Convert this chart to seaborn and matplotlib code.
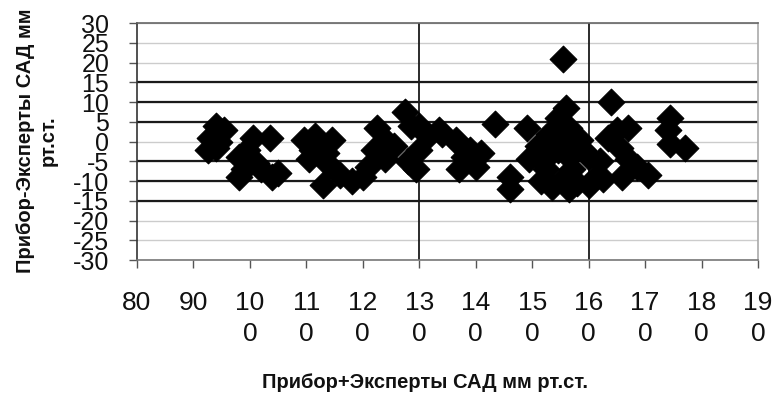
import matplotlib
matplotlib.use("Agg")
import matplotlib.pyplot as plt
import seaborn as sns
import pandas as pd

# Bland-Altman style data: mean of device+experts vs difference (SAD, mm Hg)
mean_sad = [
    92.5, 93, 94, 94.5, 95.5, 94,
    100.5, 103.5, 98, 99.5, 101, 98, 104, 102, 99, 105,
    109.5, 111.5, 114.5, 112.5, 110.5, 114, 113, 116, 118, 120, 121, 111, 113.5,
    122.5, 124, 122, 125.5, 124, 127.5, 128.5, 128, 129.5,
    130, 131.5, 133.5, 134, 137, 139, 137, 140, 130, 136.5, 138, 143.5, 146, 146, 141,
    149, 149.5, 155.5, 156, 154.5, 153, 156.5, 158.5, 154.5, 156.5, 160, 152.5,
    155.5, 158, 161, 153.5, 156.5, 151, 152, 157, 159, 155, 157.5, 151.5, 160,
    164, 165, 167, 163.5, 165.5, 167, 166, 170.5, 168.5, 162, 162.5,
    174.5, 174, 174.5, 177,
]
diff_sad = [
    -2, 1, 4, 0, 3, -1.5,
    1, 1, -4, -2, -5.5, -9, -9, -7, -7, -8,
    0.5, 1.5, 0.5, -2, -4.5, -6, -11, -8.5, -10, -9, -6.5, -2, -3,
    3.5, 0.5, -2, -1, -4.5, 7.5, 4, -5, -7,
    4, 1.5, 3, 2, -0.5, -2, -7, -6.5, -2, 0.5, -4, 4.5, -12, -9, -3,
    3.5, -4.5, 21, 8.5, 6, 2, 3.5, 0.5, -2, -4, -4, -7,
    -9.5, -10.5, -9.5, -11.5, -12, -1, -5, -7, -2, 0, -1, -10, -11,
    10, 3, 3.5, 1, -1.5, -4.5, -9, -8.5, -6.5, -5, -9.5,
    6, 3, -0.5, -1.5,
]

x_ticks = list(range(80, 200, 10))
x_tick_labels = ["80", "90", "10\n0", "11\n0", "12\n0", "13\n0", "14\n0",
                 "15\n0", "16\n0", "17\n0", "18\n0", "19\n0"]
y_ticks = list(range(-30, 35, 5))
limit_lines = [-15, -10, -5, 5, 10, 15]
range_lines = [130, 160]

df = pd.DataFrame({"mean": mean_sad, "diff": diff_sad})

sns.set_theme(style="white")
plt.rcParams['font.family'] = ['Liberation Sans', 'DejaVu Sans']

fig = plt.figure(figsize=(7.76, 3.99), dpi=100)
ax = fig.add_axes([0.1765, 0.348, 0.8003, 0.594])

ax.set_axisbelow(True)
ax.yaxis.grid(True, color='#cccccc', lw=1)
ax.xaxis.grid(False)

for y in limit_lines:
    ax.axhline(y, color='#1a1a1a', lw=1.6, zorder=1)
for x in range_lines:
    ax.axvline(x, color='#1a1a1a', lw=1.3, zorder=1)

sns.scatterplot(data=df, x="mean", y="diff", marker="D", s=185,
                color="black", edgecolor="black", linewidth=0.8,
                ax=ax, zorder=3, legend=False)

ax.set_xlim(80, 190)
ax.set_ylim(-30, 30)
ax.set_xticks(x_ticks)
ax.set_xticklabels(x_tick_labels)
ax.set_yticks(y_ticks)
ax.set_yticklabels([str(v) for v in y_ticks])
ax.set_xlabel("")
ax.set_ylabel("")

ax.tick_params(axis='x', bottom=True, direction='out', length=6, width=1,
               color='#555555', pad=16, labelsize=19, labelcolor='#111111')
ax.tick_params(axis='y', left=True, direction='out', length=6, width=1,
               color='#555555', pad=14, labelsize=18, labelcolor='#111111')
for lbl in ax.get_xticklabels():
    lbl.set_linespacing(1.38)

ax.spines['left'].set_color('#333333')
ax.spines['bottom'].set_color('#777777')
ax.spines['top'].set_color('#666666')
ax.spines['right'].set_color('#aaaaaa')
for s in ax.spines.values():
    s.set_linewidth(1.2)

fig.text(425 / 776, 1 - 383 / 399, "Прибор+Эксперты САД мм рт.ст.",
         ha='center', va='center', fontsize=14.5, fontweight='bold', color='#111111')
fig.text(37 / 776, 1 - 141 / 399, "Прибор-Эксперты САД мм\nрт.ст.",
         rotation=90, ha='center', va='center', fontsize=14.5,
         fontweight='bold', linespacing=1.2, color='#111111')

fig.savefig("out.png", dpi=100)
